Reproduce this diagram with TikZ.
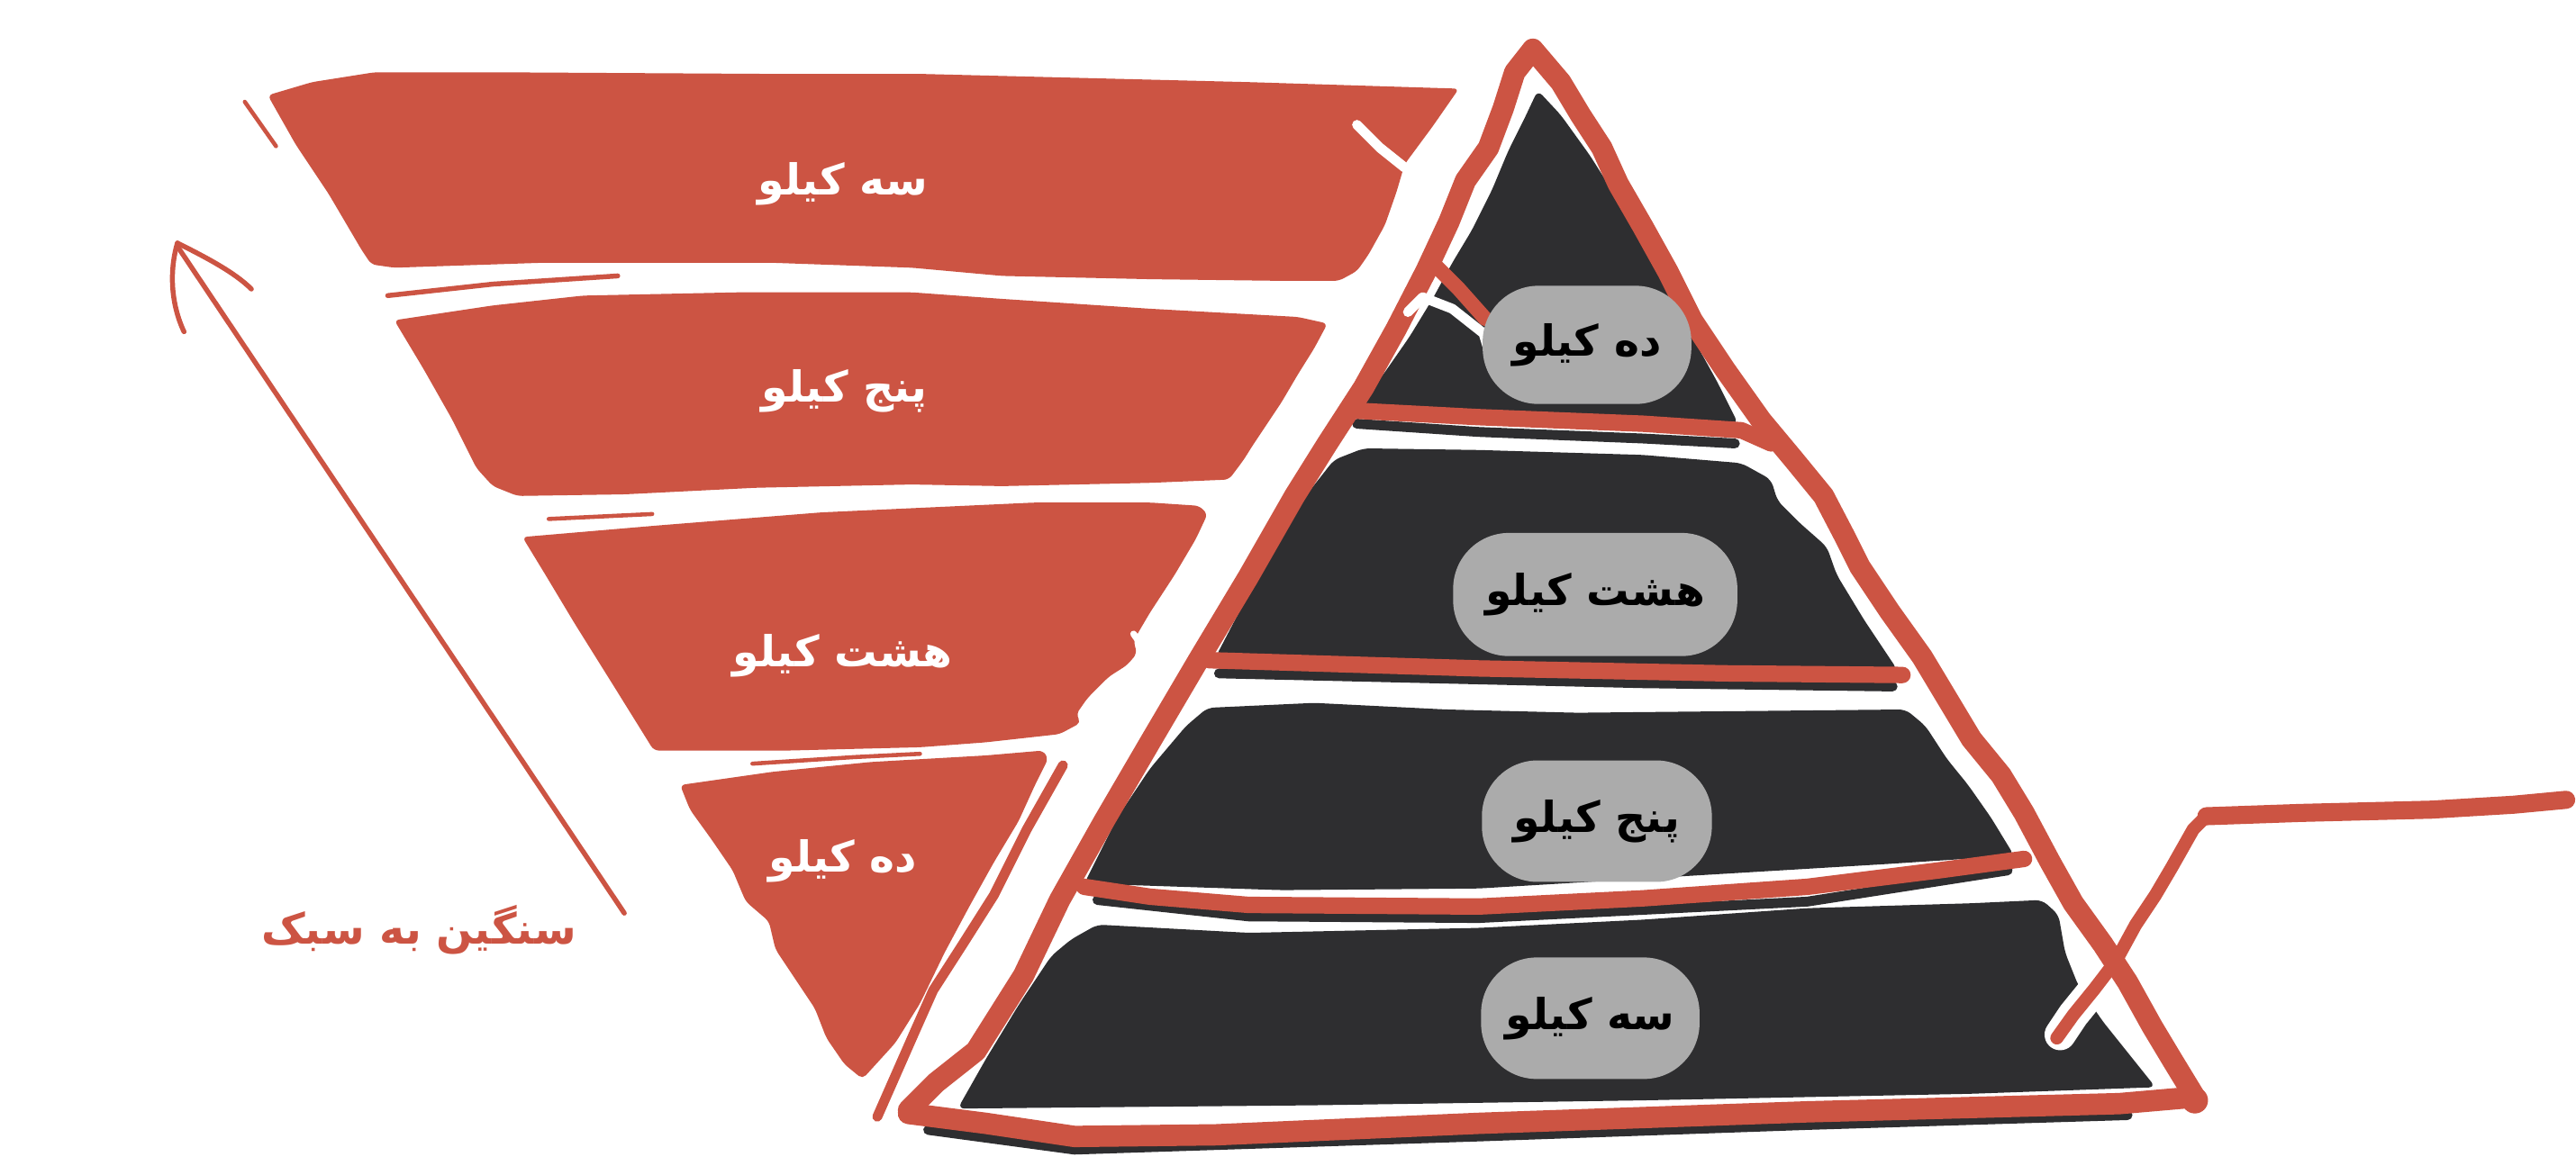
\documentclass[tikz,border=0pt]{standalone}
\usepackage{fontspec}
\TeXXeTstate=1
\newfontfamily\arabicfont[Script=Arabic]{DejaVu Sans}
\newcommand\lblfont{\arabicfont\bfseries\fontsize{26}{32}\selectfont}
\definecolor{rd}{HTML}{CC5443}
\definecolor{dk}{HTML}{2E2E30}
\definecolor{gr}{HTML}{ABABAB}
\tikzset{
  band/.style={fill=rd, rounded corners=3pt},
  darkfill/.style={fill=dk, rounded corners=4pt},
  sep/.style={draw=rd, line width=10pt, line cap=round, line join=round},
  shade/.style={draw=dk, line width=6pt, line cap=round, line join=round},
  outl/.style={draw=rd, line width=13pt, line cap=round, line join=round},
  whitestroke/.style={draw=white, line cap=round, line join=round},
  thinred/.style={draw=rd, line cap=round, line join=round},
  bubble/.style={fill=gr, rounded corners=34pt, inner sep=0pt},
  wlabel/.style={text=white, font=\lblfont},
  blabel/.style={text=black, font=\lblfont},
}
\begin{document}
\begin{tikzpicture}[x=1pt,y=-1pt]
\useasboundingbox (0,0) rectangle (1568,715);
\fill[white] (0,0) rectangle (1568,715);

% ---------- funnel bands ----------
\fill[band] (163,58) -- (190,50) -- (228,44) -- (300,44) -- (470,45) -- (560,45) -- (640,47) -- (760,50) -- (888,54)
  -- (872,77) -- (855,100) -- (850,117) -- (843,137) -- (833,155) -- (826,165) -- (815,171) -- (780,171) -- (700,170)
  -- (610,168) -- (555,163) -- (470,160) -- (330,160) -- (240,163) -- (226,161) -- (220,152) -- (200,118) -- (180,88) -- cycle;
\fill[band] (240,195) -- (300,186) -- (355,180) -- (450,178) -- (555,178) -- (610,182) -- (700,188) -- (790,193) -- (808,197)
  -- (800,212) -- (790,228) -- (780,245) -- (770,260) -- (762,272) -- (757,280) -- (748,292) -- (700,294) -- (610,296)
  -- (555,295) -- (460,297) -- (380,301) -- (315,302) -- (300,296) -- (290,285) -- (275,255) -- (258,225) -- cycle;
\fill[band] (318,327) -- (400,320) -- (500,312) -- (630,306) -- (700,306) -- (730,308) -- (735,313) -- (728,328) -- (715,350)
  -- (700,373) -- (690,390) -- (692,398) -- (686,405) -- (675,412) -- (662,425) -- (655,435) -- (658,440) -- (645,447)
  -- (600,452) -- (560,455) -- (480,457) -- (398,457) -- (375,420) -- (350,380) -- (332,350) -- cycle;
\fill[band] (414,478) -- (470,470) -- (530,464) -- (600,460) -- (635,457) -- (638,462) -- (630,478) -- (620,500) -- (605,525)
  -- (590,552) -- (575,580) -- (560,611) -- (545,635) -- (525,657) -- (514,648) -- (503,632) -- (496,614) -- (484,596)
  -- (472,578) -- (468,561) -- (454,549) -- (451,542) -- (446,530) -- (433,511) -- (420,493) -- cycle;
% slivers and strokes
\draw[thinred, line width=2.5pt] (149,62) -- (168,89);
\draw[thinred, line width=3pt] (236,180) -- (300,173) -- (376,168);
\draw[thinred, line width=2.5pt] (334,316) -- (397,313);
\draw[thinred, line width=2.5pt] (458,465) -- (520,461) -- (560,459);
\draw[thinred, line width=6pt] (647,466) -- (625,505) -- (605,545) -- (586,575) -- (568,603) -- (556,630) -- (545,655) -- (534,680);
\draw[whitestroke, line width=6pt] (826,76) -- (840,90) -- (855,102);
\draw[whitestroke, line width=4pt] (690,386) -- (697,396);

% ---------- arrow ----------
\draw[thinred, line width=3pt] (108,150) -- (380,556);
\draw[thinred, line width=3pt] (108,148) .. controls (103,165) and (104,185) .. (112,202);
\draw[thinred, line width=3pt] (108,148) .. controls (126,157) and (143,166) .. (153,176);
\node[text=rd, font=\lblfont] (heavy) at (255,566) {\beginR سنگین به سبک\endR};

% ---------- pyramid levels ----------
\fill[darkfill] (936,55) -- (928,72) -- (918,92) -- (908,116) -- (896,140) -- (884,160) -- (872,182) -- (858,205) -- (842,228)
  -- (826,247) -- (900,251) -- (980,255) -- (1058,258) -- (1045,232) -- (1030,205) -- (1015,178) -- (1000,150) -- (985,122)
  -- (968,95) -- (950,70) -- cycle;
\fill[darkfill] (812,280) -- (830,273) -- (900,274) -- (1000,277) -- (1060,282) -- (1078,292) -- (1082,305) -- (1095,318)
  -- (1112,333) -- (1118,350) -- (1135,378) -- (1155,408) -- (1000,405) -- (850,402) -- (740,400) -- (765,352) -- (790,308) -- cycle;
\fill[darkfill] (722,442) -- (735,431) -- (800,428) -- (880,432) -- (960,434) -- (1160,432) -- (1172,442) -- (1185,462)
  -- (1198,478) -- (1212,498) -- (1226,521) -- (1150,526) -- (1000,535) -- (900,541) -- (780,542) -- (660,538) -- (680,498) -- (700,468) -- cycle;
\fill[darkfill] (652,572) -- (668,563) -- (760,568) -- (900,565) -- (1000,560) -- (1100,553) -- (1200,550) -- (1243,548)
  -- (1253,557) -- (1257,580) -- (1265,600) -- (1280,622) -- (1296,642) -- (1312,662) -- (1200,666) -- (1000,670)
  -- (800,673) -- (583,675) -- (600,645) -- (620,612) -- (640,582) -- cycle;

% separator shadows
\draw[shade] (826,258) -- (900,263) -- (1000,267) -- (1056,270);
\draw[shade] (742,410) -- (1000,416) -- (1152,418);
\draw[shade] (668,548) -- (760,558) -- (900,559) -- (1100,549) -- (1222,530);
\draw[shade] (565,688) -- (654,700) -- (900,692) -- (1100,685) -- (1295,679);
% separators
\draw[sep] (824,250) -- (900,254) -- (1000,258) -- (1060,262) -- (1078,270);
\draw[sep] (736,402) -- (900,407) -- (1050,410) -- (1158,411);
\draw[sep] (660,540) -- (700,546) -- (760,551) -- (900,552) -- (1000,547) -- (1100,540) -- (1180,530) -- (1232,523);

% halo of the crossing stroke inside the pyramid
\draw[whitestroke, line width=19pt] (1254,630) -- (1262,618) -- (1275,602) -- (1286,588);

% outline
\draw[outl] (553,676) -- (570,659) -- (594,640) -- (623,594) -- (645,548) -- (672,500) -- (700,452) -- (730,401)
  -- (760,351) -- (788,302) -- (808,270) -- (830,236) -- (850,200) -- (868,165) -- (882,135) -- (892,110) -- (906,90)
  -- (915,66) -- (922,44) -- (933,30) -- (950,50) -- (962,70) -- (975,90) -- (985,112) -- (1000,138) -- (1015,165)
  -- (1030,195) -- (1050,225) -- (1072,256) -- (1092,280) -- (1110,302) -- (1122,325) -- (1132,345) -- (1150,372)
  -- (1170,400) -- (1185,425) -- (1200,450) -- (1218,472) -- (1232,495) -- (1248,525) -- (1262,550) -- (1280,575)
  -- (1295,598) -- (1310,625) -- (1322,645) -- (1336,668);
\draw[outl] (553,678) -- (600,684) -- (654,692) -- (740,691) -- (900,684) -- (1100,677) -- (1290,672) -- (1336,668);
\fill[rd] (1336,670) circle (8);

% branch and white V at the top level
\draw[thinred, line width=9pt] (872,160) -- (888,176) -- (904,194);
\draw[whitestroke, line width=6pt] (857,190) -- (866,181) -- (884,188) -- (903,203) -- (906,213);

% ---------- bubbles ----------
\node[bubble, minimum width=127pt, minimum height=72pt] (b1) at (966,210) {};
\node[bubble, minimum width=173pt, minimum height=75pt] (b2) at (971,362) {};
\node[bubble, minimum width=140pt, minimum height=74pt] (b3) at (972,500) {};
\node[bubble, minimum width=133pt, minimum height=74pt] (b4) at (968,620) {};
\node[blabel] (t1) at (b1) {\beginR ده کیلو\endR};
\node[blabel] (t2) at (b2) {\beginR هشت کیلو\endR};
\node[blabel] (t3) at (b3) {\beginR پنج کیلو\endR};
\node[blabel] (t4) at (b4) {\beginR سه کیلو\endR};

% funnel labels
\node[wlabel] (w1) at (513,112) {\beginR سه کیلو\endR};
\node[wlabel] (w2) at (514,238) {\beginR پنج کیلو\endR};
\node[wlabel] (w3) at (513,399) {\beginR هشت کیلو\endR};
\node[wlabel] (w4) at (513,524) {\beginR ده کیلو\endR};

% ---------- right check stroke ----------
\draw[thinred, line width=8pt] (1252,632) -- (1262,618) -- (1275,602) -- (1288,585) -- (1300,563) -- (1312,545) -- (1322,528) -- (1335,505) -- (1343,497);
\draw[thinred, line width=11pt] (1343,497) -- (1400,495) -- (1480,493) -- (1530,490) -- (1562,487);
\end{tikzpicture}
\end{document}
